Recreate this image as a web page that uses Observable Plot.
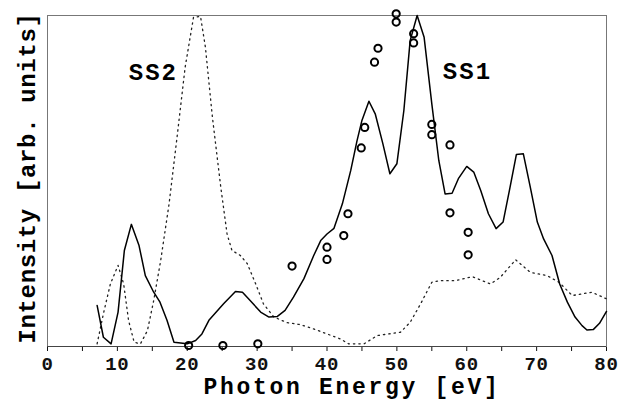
<!DOCTYPE html>
<html>
<head>
<meta charset="utf-8">
<script src="https://cdn.jsdelivr.net/npm/d3@7"></script>
<script src="https://cdn.jsdelivr.net/npm/@observablehq/plot@0.6"></script>
<style>
  html, body { margin: 0; padding: 0; background: #fff; }
  #chart { width: 626px; height: 400px; }
</style>
</head>
<body>
<div id="chart"></div>
<script>
// SS1 (solid line)
const ss1Energy = [7.1, 8.0, 9.1, 10.1, 11.0, 12.0, 13.1, 14.0, 15.2, 16.1, 17.1, 18.1, 20.0, 21.2, 22.1, 23.1, 25.2, 26.9, 27.9, 29.0, 30.5, 31.7, 32.9, 34.0, 35.2, 36.7, 38.1, 39.1, 40.0, 41.0, 42.2, 43.4, 44.3, 45.0, 46.0, 46.9, 48.0, 49.0, 50.0, 51.0, 51.9, 52.9, 53.9, 55.0, 56.0, 56.9, 57.9, 58.8, 60.0, 61.0, 62.0, 63.1, 64.2, 65.2, 66.1, 67.1, 68.1, 69.1, 70.1, 71.0, 72.2, 73.3, 74.4, 75.5, 76.5, 77.2, 78.1, 79.0, 80.0];
const ss1Intensity = [12.4, 2.8, 0.8, 10.4, 29.0, 36.9, 30.5, 21.4, 16.4, 13.4, 7.9, 1.3, 0.8, 1.8, 3.8, 7.9, 12.9, 16.6, 16.4, 13.9, 10.4, 8.9, 9.1, 10.9, 14.9, 20.5, 27.5, 32.0, 34.0, 35.7, 43.1, 53.2, 62.2, 68.3, 74.1, 70.3, 61.2, 52.2, 55.2, 71.3, 92.4, 100, 93.4, 73.3, 56.2, 46.1, 46.3, 50.7, 54.4, 52.7, 47.1, 40.1, 35.6, 37.6, 47.1, 58.0, 58.2, 48.1, 37.6, 32.5, 27.5, 18.9, 13.4, 8.9, 6.3, 5.0, 5.1, 7.0, 10.6];

// SS2 (dotted line)
const ss2Energy = [7.1, 8.0, 9.0, 10.1, 10.9, 11.6, 12.4, 13.3, 14.3, 15.2, 16.2, 17.4, 18.6, 19.7, 20.9, 21.9, 22.6, 23.6, 24.8, 25.7, 26.4, 27.6, 28.6, 29.8, 30.9, 32.4, 34.3, 36.2, 38.1, 40.0, 41.9, 43.1, 45.3, 47.2, 50.5, 51.9, 53.4, 55.0, 56.2, 58.4, 60.8, 63.4, 64.8, 67.0, 69.1, 71.5, 73.2, 75.1, 77.9, 80.0];
const ss2Intensity = [0.8, 9.9, 18.9, 24.5, 18.9, 7.9, 1.3, 0.8, 4.8, 13.9, 26.0, 43.1, 64.3, 84.4, 99.5, 99.7, 90.4, 69.3, 48.1, 34.0, 29.0, 27.5, 25.0, 18.9, 12.9, 8.9, 7.2, 6.6, 5.3, 3.8, 2.3, 0.8, 0.8, 3.3, 4.3, 7.3, 12.9, 19.4, 19.9, 19.9, 21.1, 18.9, 20.9, 26.2, 22.4, 21.4, 19.4, 15.4, 16.4, 14.4];

// Experimental points (circles)
const expEnergy = [20.2, 25.1, 30.1, 35.0, 40.0, 40.0, 42.4, 43.0, 44.9, 45.4, 46.8, 47.3, 49.9, 49.9, 52.4, 52.4, 55.0, 55.0, 57.6, 57.6, 60.2, 60.2];
const expIntensity = [0.3, 0.3, 0.8, 24.3, 30.0, 26.3, 33.5, 40.1, 60.0, 66.2, 85.9, 90.1, 100.5, 98.0, 94.5, 91.7, 67.1, 64.0, 60.9, 40.4, 34.5, 27.7];

// Curve labels
const labelNames = ["SS2", "SS1"];
const labelEnergy = [15.15, 60.1];
const labelIntensity = [82.8, 83.2];

// Axis
const xTicks = [0, 5, 10, 15, 20, 25, 30, 35, 40, 45, 50, 55, 60, 65, 70, 75, 80];
const xTitle = "Photon Energy [eV]";
const yTitle = "Intensity [arb. units]";

const ss1 = ss1Energy.map((e, i) => ({e, v: ss1Intensity[i]}));
const ss2 = ss2Energy.map((e, i) => ({e, v: ss2Intensity[i]}));
const exp = expEnergy.map((e, i) => ({e, v: expIntensity[i]}));
const labels = labelNames.map((t, i) => ({t, e: labelEnergy[i], v: labelIntensity[i]}));

const chart = Plot.plot({
  width: 626,
  height: 400,
  marginLeft: 47,
  marginRight: 20,
  marginTop: 15,
  marginBottom: 54,
  style: {fontFamily: "'Liberation Mono', 'DejaVu Sans Mono', monospace", fontSize: "19px", fontWeight: "bold", background: "#fff", color: "#111", letterSpacing: "0.8px"},
  x: {domain: [0, 80], ticks: xTicks, tickSize: 5, tickPadding: 4.5, tickFormat: d => d % 10 === 0 ? String(d) : "", label: null},
  y: {domain: [0, 100], axis: null},
  marks: [
    Plot.frame({stroke: "#777", strokeWidth: 1}),
    Plot.ruleY([0], {stroke: "#444", strokeWidth: 1}),
    Plot.line(ss2, {x: "e", y: "v", stroke: "#222", strokeWidth: 1.3, strokeDasharray: "1.4,4", curve: "linear"}),
    Plot.line(ss1, {x: "e", y: "v", stroke: "#000", strokeWidth: 1.5, curve: "linear"}),
    Plot.dot(exp, {x: "e", y: "v", r: 3.6, stroke: "#000", strokeWidth: 2, fill: "none"}),
    Plot.text(labels, {x: "e", y: "v", text: "t", fontSize: 24, fontWeight: "bold", fill: "#000"}),
    Plot.text([xTitle], {frameAnchor: "bottom", textAnchor: "middle", lineAnchor: "middle", dx: 25, dy: 40.2, fontSize: 23, fontWeight: "bold", fill: "#000"}),
    Plot.text([yTitle], {frameAnchor: "left", textAnchor: "middle", lineAnchor: "middle", rotate: -90, dx: -20, dy: -3, fontSize: 24, fontWeight: "bold", fill: "#000"})
  ]
});

// Courier-like wide lettering: widen the monospace advance per text
const spacing = {"SS1": 2, "SS2": 2};
spacing[xTitle] = 2.7;
spacing[yTitle] = 0.65;
d3.select(chart).selectAll("text").each(function () {
  const s = spacing[this.textContent];
  if (s !== undefined) this.style.letterSpacing = s + "px";
});
document.getElementById("chart").appendChild(chart);
</script>
</body>
</html>
